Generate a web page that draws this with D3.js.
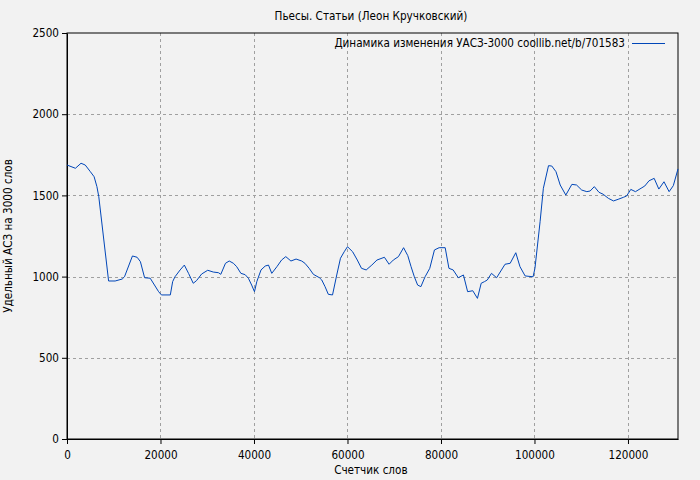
<!DOCTYPE html>
<html><head><meta charset="utf-8">
<script src="https://cdn.jsdelivr.net/npm/d3@7"></script>
<style>
html,body{margin:0;padding:0;background:#f2f2f2;}
svg{display:block;font-family:"DejaVu Sans Condensed","DejaVu Sans",sans-serif;}
</style></head>
<body>
<svg id="chart" width="700" height="480"></svg>
<script>
const title = "Пьесы. Статьи (Леон Кручковский)";
const legendLabel = "Динамика изменения УАСЗ-3000 coollib.net/b/701583";
const xLabel = "Счетчик слов";
const yLabel = "Удельный АСЗ на 3000 слов";
const xTicks = [0, 20000, 40000, 60000, 80000, 100000, 120000];
const yTicks = [0, 500, 1000, 1500, 2000, 2500];

const words = [0,1800,3000,3900,5000,5800,6400,6800,8900,10300,11800,12300,14000,15000,15700,16600,17800,19600,20200,22100,
  22600,23100,24200,25100,26000,27000,27700,28800,30100,31300,32400,32900,33900,34700,35600,36300,37200,38100,38800,39500,
  40100,40600,41500,42400,43100,43800,44900,45900,46800,47900,49000,50200,50900,51800,52700,54000,54500,55200,55900,56800,
  57700,58500,59300,60000,61100,62100,63000,64000,65200,66300,67900,68900,69800,70900,72000,72900,73600,74300,75000,75700,
  76600,77600,78600,79600,80900,81700,82600,83700,84800,85700,86800,87800,88600,89300,89900,90800,91900,93700,94800,96000,
  96900,98000,99700,100100,101200,101900,103000,103700,104600,105500,106700,108000,109000,110100,111200,111900,112800,113800,114700,115800,
  116900,117900,119000,119700,120600,121600,122800,123600,124500,125600,126600,127700,128800,129700,130700];
const values = [1687,1667,1698,1687,1646,1615,1554,1492,973,973,985,999,1127,1119,1092,993,990,907,887,887,
  969,999,1041,1071,1020,959,975,1016,1039,1028,1024,1014,1082,1096,1082,1061,1020,1012,990,948,
  907,969,1041,1065,1071,1020,1061,1102,1123,1096,1108,1096,1082,1051,1014,993,979,938,891,887,
  1010,1113,1153,1184,1153,1102,1051,1041,1071,1102,1119,1076,1102,1123,1178,1129,1061,999,948,938,
  999,1051,1164,1178,1178,1051,1041,993,1010,907,913,866,959,969,979,1020,993,1076,1082,1147,
  1061,1004,999,1051,1338,1544,1683,1681,1646,1564,1502,1568,1564,1533,1523,1527,1554,1519,1507,1482,
  1466,1476,1488,1496,1537,1523,1544,1558,1590,1605,1539,1584,1523,1560,1663];

const FONT = "DejaVu Sans Condensed";
const FS = 11.6;
const svg = d3.select("#chart");
const W = 700, H = 480;
const m = {left: 67, right: 22, top: 33, bottom: 41};
const x = d3.scaleLinear().domain([0, 130700]).range([m.left, W - m.right]);
const y = d3.scaleLinear().domain([0, 2500]).range([H - m.bottom, m.top]);

svg.append("rect").attr("width", W).attr("height", H).attr("fill", "#f2f2f2");

// grid
const grid = svg.append("g").attr("stroke", "#a0a0a0").attr("stroke-dasharray", "3,3").attr("stroke-width", 1);
xTicks.filter(d => d > 0).forEach(t => {
  grid.append("line").attr("x1", Math.round(x(t)) + 0.5).attr("x2", Math.round(x(t)) + 0.5)
    .attr("y1", y(2500)).attr("y2", y(0));
});
yTicks.filter(d => d > 0 && d < 2500).forEach(t => {
  grid.append("line").attr("y1", Math.round(y(t)) + 0.5).attr("y2", Math.round(y(t)) + 0.5)
    .attr("x1", x(0)).attr("x2", x(130700));
});

// axes
const xAxis = d3.axisBottom(x).tickValues(xTicks).tickFormat(d3.format("d")).tickSize(5).tickSizeOuter(0);
const yAxis = d3.axisLeft(y).tickValues(yTicks).tickFormat(d3.format("d")).tickSize(5).tickSizeOuter(0);
const gx = svg.append("g").attr("transform", `translate(0,${H - m.bottom})`).call(xAxis);
const gy = svg.append("g").attr("transform", `translate(${m.left},0)`).call(yAxis);
[gx, gy].forEach(g => {
  g.selectAll("text").attr("font-family", FONT).attr("font-size", FS).attr("fill", "#000");
  g.selectAll("line").attr("stroke", "#000");
  g.select(".domain").attr("stroke", "#000");
});
gx.selectAll("text").attr("dy", "1.05em");

// frame
svg.append("rect").attr("x", x(0)).attr("y", y(2500)).attr("width", x(130700) - x(0)).attr("height", y(0) - y(2500))
  .attr("fill", "none").attr("stroke", "#000").attr("stroke-width", 1);

// line
const line = d3.line().x((d, i) => x(words[i])).y(d => y(d));
svg.append("path").datum(values).attr("d", line).attr("fill", "none").attr("stroke", "#0046b8").attr("stroke-width", 1);

// title
svg.append("text").attr("x", 371).attr("y", 20).attr("text-anchor", "middle").attr("font-family", FONT).attr("font-size", FS).text(title);
// labels
svg.append("text").attr("x", x(65000)).attr("y", 474).attr("text-anchor", "middle").attr("font-family", FONT).attr("font-size", FS).text(xLabel);
svg.append("text").attr("transform", `translate(12,${(y(0) + y(2500)) / 2}) rotate(-90)`).attr("text-anchor", "middle").attr("font-family", FONT).attr("font-size", FS).text(yLabel);

// legend
svg.append("text").attr("x", 625).attr("y", 47).attr("text-anchor", "end").attr("font-family", FONT).attr("font-size", FS).text(legendLabel);
svg.append("line").attr("x1", 632).attr("x2", 665).attr("y1", 43.5).attr("y2", 43.5).attr("stroke", "#0046b8").attr("stroke-width", 1);
</script>
</body></html>
